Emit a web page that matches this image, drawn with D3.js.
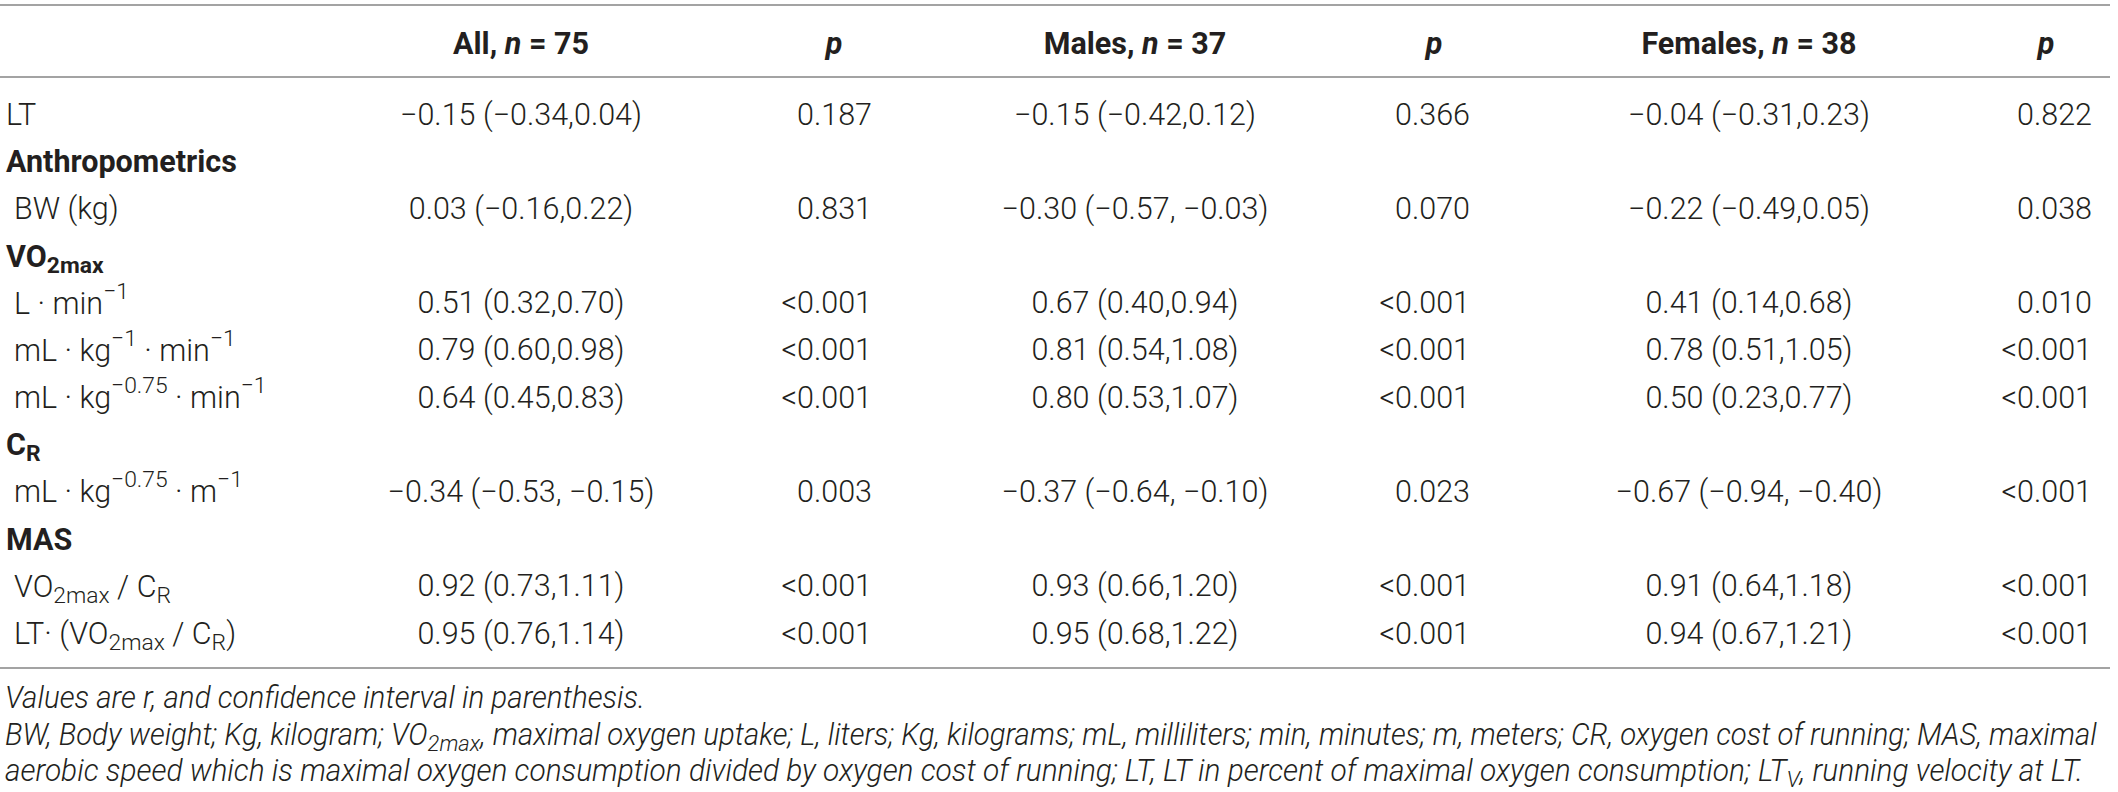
<!DOCTYPE html>
<html>
<head>
<meta charset="utf-8">
<script src="https://cdn.jsdelivr.net/npm/d3@7/dist/d3.min.js"></script>
<style>
  html, body { margin: 0; padding: 0; background: #fff; }
  svg { display: block; }
</style>
</head>
<body>
<div id="table"></div>
<script>
// ---- data ----
const rowLabels = [
  "LT", "Anthropometrics", "BW (kg)", "VO_{2max}", "L · min^{−1}",
  "mL · kg^{−1} · min^{−1}", "mL · kg^{−0.75} · min^{−1}", "C_{R}",
  "mL · kg^{−0.75} · m^{−1}", "MAS", "VO_{2max} / C_{R}", "LT· (VO_{2max} / C_{R})"
];
const rowHeading = [false, true, false, true, false, false, false, true, false, true, false, false];

const allR  = ["−0.15 (−0.34,0.04)", "", "0.03 (−0.16,0.22)", "", "0.51 (0.32,0.70)", "0.79 (0.60,0.98)", "0.64 (0.45,0.83)", "", "−0.34 (−0.53, −0.15)", "", "0.92 (0.73,1.11)", "0.95 (0.76,1.14)"];
const allP  = ["0.187", "", "0.831", "", "<0.001", "<0.001", "<0.001", "", "0.003", "", "<0.001", "<0.001"];
const maleR = ["−0.15 (−0.42,0.12)", "", "−0.30 (−0.57, −0.03)", "", "0.67 (0.40,0.94)", "0.81 (0.54,1.08)", "0.80 (0.53,1.07)", "", "−0.37 (−0.64, −0.10)", "", "0.93 (0.66,1.20)", "0.95 (0.68,1.22)"];
const maleP = ["0.366", "", "0.070", "", "<0.001", "<0.001", "<0.001", "", "0.023", "", "<0.001", "<0.001"];
const femR  = ["−0.04 (−0.31,0.23)", "", "−0.22 (−0.49,0.05)", "", "0.41 (0.14,0.68)", "0.78 (0.51,1.05)", "0.50 (0.23,0.77)", "", "−0.67 (−0.94, −0.40)", "", "0.91 (0.64,1.18)", "0.94 (0.67,1.21)"];
const femP  = ["0.822", "", "0.038", "", "0.010", "<0.001", "<0.001", "", "<0.001", "", "<0.001", "<0.001"];

const headers = ["All, *n* = 75", "*p*", "Males, *n* = 37", "*p*", "Females, *n* = 38", "*p*"];

const footnotes = [
  "Values are r, and confidence interval in parenthesis.",
  "BW, Body weight; Kg, kilogram; VO_{2max}, maximal oxygen uptake; L, liters; Kg, kilograms; mL, milliliters; min, minutes; m, meters; CR, oxygen cost of running; MAS, maximal",
  "aerobic speed which is maximal oxygen consumption divided by oxygen cost of running; LT, LT in percent of maximal oxygen consumption; LT_{V}, running velocity at LT."
];

// ---- layout ----
const width = 2118, height = 792;
const font = "Roboto, 'Liberation Sans', sans-serif";
const ink = "#231f20";

const svg = d3.select("#table").append("svg")
  .attr("width", width).attr("height", height)
  .style("font-family", font);

// size the font so a value cell is as wide as in the print (~242px)
const probe = svg.append("text").style("font-size", "30px").style("font-weight", 300)
  .text("−0.15 (−0.34,0.04)");
const fs = Math.max(24, Math.min(34, 30 * 242 / probe.node().getComputedTextLength()));
probe.remove();

// columns
const cols = [
  {data: allR,  x: 521,  anchor: "middle"},
  {data: allP,  x: 872,  anchor: "end"},
  {data: maleR, x: 1135, anchor: "middle"},
  {data: maleP, x: 1470, anchor: "end"},
  {data: femR,  x: 1749, anchor: "middle"},
  {data: femP,  x: 2092, anchor: "end"}
];
const headerX = [521, 834, 1135, 1434, 1749, 2046];

const y = d3.scalePoint()
  .domain(d3.range(rowLabels.length))
  .range([114, 633]);

// rich text: _{sub}, ^{sup}, *italic*
function rich(sel, str, size) {
  const re = /(_\{[^}]*\}|\^\{[^}]*\}|\*[^*]*\*)/g;
  const parts = str.split(re).filter(s => s.length);
  let shift = 0;
  parts.forEach(p => {
    let txt = p, dy = 0, small = false, ital = false;
    if (p.startsWith("_{")) { txt = p.slice(2, -1); dy = size * 0.3; small = true; }
    else if (p.startsWith("^{")) { txt = p.slice(2, -1); dy = -size * 0.4; small = true; }
    else if (p.startsWith("*")) { txt = p.slice(1, -1); ital = true; }
    const t = sel.append("tspan").text(txt);
    if (dy - shift) t.attr("dy", dy - shift);
    if (small) t.style("font-size", (size * 0.75) + "px");
    if (ital) t.style("font-style", "italic");
    shift = dy;
  });
}

// rules
const rule = (yy) => svg.append("line")
  .attr("x1", 0).attr("x2", width - 8)
  .attr("y1", yy).attr("y2", yy)
  .attr("stroke", "#a3a3a3").attr("stroke-width", 2);
rule(5); rule(77); rule(668);

// header
headers.forEach((h, i) => {
  const t = svg.append("text")
    .attr("x", headerX[i]).attr("y", 43)
    .attr("text-anchor", "middle")
    .attr("dominant-baseline", "central")
    .style("font-size", fs + "px").style("font-weight", "bold")
    .attr("fill", ink);
  rich(t, h, fs);
});

// row labels
svg.append("g").selectAll("text")
  .data(rowLabels)
  .join("text")
  .attr("x", (d, i) => rowHeading[i] || i === 0 ? 6 : 14)
  .attr("y", (d, i) => y(i))
  .attr("dominant-baseline", "central")
  .style("font-size", fs + "px")
  .style("font-weight", (d, i) => rowHeading[i] ? "bold" : 300)
  .attr("fill", ink)
  .each(function(d) { rich(d3.select(this), d, fs); });

// cells (blank cells under section headings are skipped)
cols.forEach(c => {
  svg.append("g").selectAll("text")
    .data(c.data.map((v, i) => ({v, i})).filter(d => d.v !== ""))
    .join("text")
    .attr("x", c.x)
    .attr("y", d => y(d.i))
    .attr("text-anchor", c.anchor)
    .attr("dominant-baseline", "central")
    .style("font-size", fs + "px")
    .style("font-weight", 300)
    .attr("fill", ink)
    .text(d => d.v);
});

// footnotes: condensed italic, squeezed to the printed line widths
const fy = [697, 734, 770];
const fLen = [640, 2093, 2079];
footnotes.forEach((f, i) => {
  const t = svg.append("text")
    .attr("dominant-baseline", "central")
    .style("font-size", fs + "px")
    .style("font-style", "italic")
    .style("font-weight", 300)
    .attr("fill", ink);
  rich(t, f, fs);
  const w = t.node().getBBox().width || fLen[i];
  t.attr("transform", `translate(5,${fy[i]}) scale(${fLen[i] / w},1)`);
});
</script>
</body>
</html>
